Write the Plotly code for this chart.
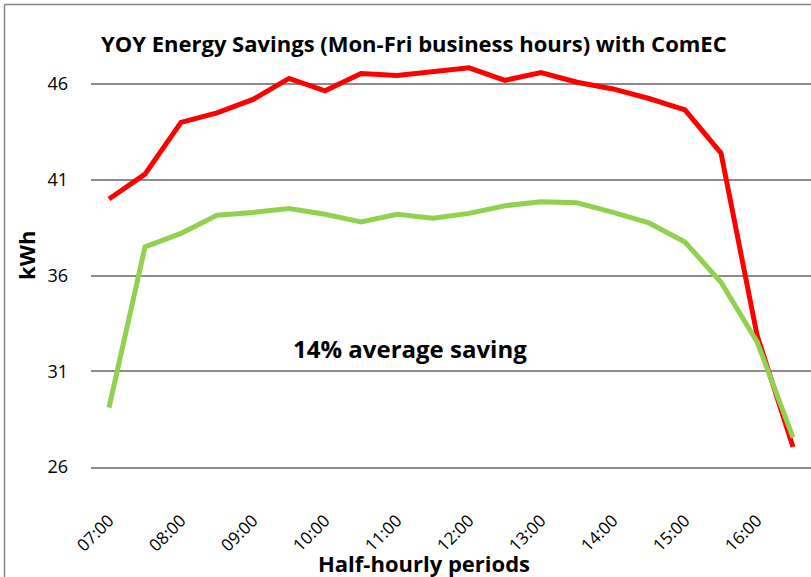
import plotly.graph_objects as go

periods = ["07:00", "07:30", "08:00", "08:30", "09:00", "09:30", "10:00", "10:30",
           "11:00", "11:30", "12:00", "12:30", "13:00", "13:30", "14:00", "14:30",
           "15:00", "15:30", "16:00", "16:30"]
before_kwh = [40.0, 41.3, 44.0, 44.5, 45.2, 46.3, 45.65, 46.55, 46.45, 46.65, 46.85, 46.2,
              46.6, 46.1, 45.75, 45.25, 44.65, 42.4, 32.9, 27.05]
after_kwh = [29.1, 37.5, 38.2, 39.15, 39.3, 39.5, 39.2, 38.8, 39.2, 39.0, 39.25, 39.65,
             39.85, 39.8, 39.3, 38.75, 37.75, 35.65, 32.55, 27.55]
hour_ticks = ["07:00", "08:00", "09:00", "10:00", "11:00", "12:00", "13:00", "14:00", "15:00", "16:00"]
y_ticks = [26, 31, 36, 41, 46]

FONT = "Open Sans"
GRID = "#8c8c8c"
W, H = 811, 577
L, T, PW, PH = 91, 65, 720, 402  # plot area in page pixels


def px(x):
    return (x - L) / PW


def py(y):
    return (T + PH - y) / PH


fig = go.Figure()
fig.add_trace(go.Scatter(x=periods, y=before_kwh, mode="lines",
                         line=dict(color="#ff0000", width=5), showlegend=False))
fig.add_trace(go.Scatter(x=periods, y=after_kwh, mode="lines",
                         line=dict(color="#92d050", width=5), showlegend=False))

fig.update_layout(
    width=W, height=H,
    margin=dict(l=L, r=W - L - PW, t=T, b=H - T - PH),
    plot_bgcolor="white", paper_bgcolor="white",
    font=dict(family=FONT, color="#000000"),
    xaxis=dict(type="category", range=[-0.5, 19.5], tickmode="array", tickvals=hour_ticks,
               ticktext=hour_ticks, tickangle=-45, tickfont=dict(size=17), showgrid=False,
               showline=True, linecolor=GRID, linewidth=2, ticks="", ticklabelstandoff=35),
    yaxis=dict(range=[26, 47], tickvals=y_ticks, showgrid=True, gridcolor=GRID, gridwidth=2,
               zeroline=False, showline=False, tickfont=dict(size=18), ticks="",
               ticklabelstandoff=22),
    shapes=[
        dict(type="line", xref="paper", yref="paper", x0=px(4.5), x1=px(4.5), y0=py(600), y1=py(4.5),
             line=dict(color="#868686", width=1.5)),
        dict(type="line", xref="paper", yref="paper", x0=px(4.5), x1=px(830), y0=py(4.5), y1=py(4.5),
             line=dict(color="#868686", width=1.5)),
    ],
    annotations=[
        dict(text="<b>YOY Energy Savings (Mon-Fri business hours) with ComEC</b>",
             xref="paper", yref="paper", x=px(414), y=py(43),
             xanchor="center", yanchor="middle", showarrow=False, font=dict(size=22)),
        dict(text="<b>kWh</b>", textangle=-90, xref="paper", yref="paper",
             x=px(26), y=py(256), xanchor="center", yanchor="middle",
             showarrow=False, font=dict(size=22)),
        dict(text="<b>Half-hourly periods</b>", xref="paper", yref="paper",
             x=px(424), y=py(563), xanchor="center", yanchor="middle",
             showarrow=False, font=dict(size=22)),
        dict(text="<b>14% average saving</b>", xref="paper", yref="paper",
             x=px(410), y=py(348), xanchor="center", yanchor="middle",
             showarrow=False, font=dict(size=24)),
    ],
)

fig.write_html("out.html", config={"displayModeBar": False},
               post_script="document.body.style.margin='0px';")
